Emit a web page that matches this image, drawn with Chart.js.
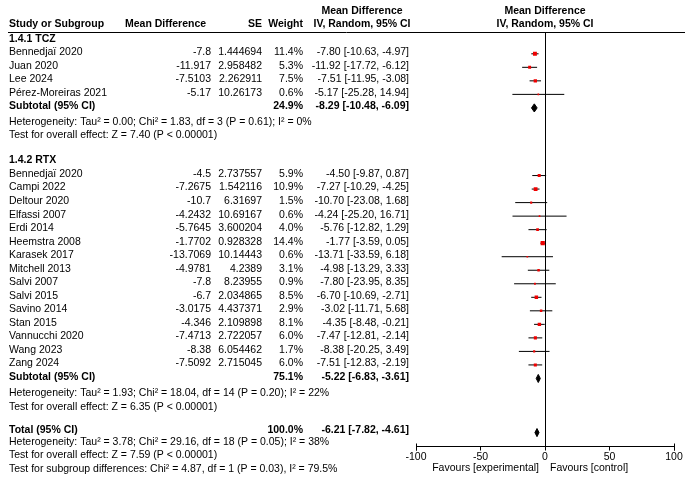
<!DOCTYPE html>
<html>
<head>
<meta charset="utf-8">
<script src="https://cdn.jsdelivr.net/npm/chart.js@4.4.1/dist/chart.umd.min.js"></script>
<style>
html,body{margin:0;padding:0;background:#fff;}
#wrap{width:685px;height:483px;position:relative;}
</style>
</head>
<body>
<div id="wrap"><canvas id="c" width="685" height="483"></canvas></div>
<script>
// ---------- data ----------
const tczStudies = ["Bennedjaï 2020", "Juan 2020", "Lee 2024", "Pérez-Moreiras 2021"];
const tczMD = [-7.8, -11.917, -7.5103, -5.17];
const tczSE = [1.444694, 2.958482, 2.262911, 10.26173];
const tczWeight = [11.4, 5.3, 7.5, 0.6];
const tczEst = [-7.80, -11.92, -7.51, -5.17];
const tczLow = [-10.63, -17.72, -11.95, -25.28];
const tczHigh = [-4.97, -6.12, -3.08, 14.94];
const tczSubtotal = { weight: 24.9, est: -8.29, low: -10.48, high: -6.09 };
const tczHet = "Heterogeneity: Tau² = 0.00; Chi² = 1.83, df = 3 (P = 0.61); I² = 0%";
const tczTest = "Test for overall effect: Z = 7.40 (P < 0.00001)";

const rtxStudies = ["Bennedjaï 2020", "Campi 2022", "Deltour 2020", "Elfassi 2007", "Erdi 2014",
  "Heemstra 2008", "Karasek 2017", "Mitchell 2013", "Salvi 2007", "Salvi 2015", "Savino 2014",
  "Stan 2015", "Vannucchi 2020", "Wang 2023", "Zang 2024"];
const rtxMD = [-4.5, -7.2675, -10.7, -4.2432, -5.7645, -1.7702, -13.7069, -4.9781, -7.8, -6.7,
  -3.0175, -4.346, -7.4713, -8.38, -7.5092];
const rtxSE = [2.737557, 1.542116, 6.31697, 10.69167, 3.600204, 0.928328, 10.14443, 4.2389,
  8.23955, 2.034865, 4.437371, 2.109898, 2.722057, 6.054462, 2.715045];
const rtxWeight = [5.9, 10.9, 1.5, 0.6, 4.0, 14.4, 0.6, 3.1, 0.9, 8.5, 2.9, 8.1, 6.0, 1.7, 6.0];
const rtxEst = [-4.50, -7.27, -10.70, -4.24, -5.76, -1.77, -13.71, -4.98, -7.80, -6.70, -3.02,
  -4.35, -7.47, -8.38, -7.51];
const rtxLow = [-9.87, -10.29, -23.08, -25.20, -12.82, -3.59, -33.59, -13.29, -23.95, -10.69,
  -11.71, -8.48, -12.81, -20.25, -12.83];
const rtxHigh = [0.87, -4.25, 1.68, 16.71, 1.29, 0.05, 6.18, 3.33, 8.35, -2.71, 5.68, -0.21,
  -2.14, 3.49, -2.19];
const rtxSubtotal = { weight: 75.1, est: -5.22, low: -6.83, high: -3.61 };
const rtxHet = "Heterogeneity: Tau² = 1.93; Chi² = 18.04, df = 14 (P = 0.20); I² = 22%";
const rtxTest = "Test for overall effect: Z = 6.35 (P < 0.00001)";

const total = { weight: 100.0, est: -6.21, low: -7.82, high: -4.61 };
const totalHet = "Heterogeneity: Tau² = 3.78; Chi² = 29.16, df = 18 (P = 0.05); I² = 38%";
const totalTest = "Test for overall effect: Z = 7.59 (P < 0.00001)";
const subgroupTest = "Test for subgroup differences: Chi² = 4.87, df = 1 (P = 0.03), I² = 79.5%";

const xTicks = [-100, -50, 0, 50, 100];
const favourLeft = "Favours [experimental]";
const favourRight = "Favours [control]";

// ---------- row layout (row index units) ----------
const rowTCZHeader = 0;
const rowTCZFirst = 1;
const rowTCZSub = rowTCZFirst + tczStudies.length;       // 5
const rowRTXHeader = rowTCZSub + 4;                        // 9
const rowRTXFirst = rowRTXHeader + 1;                      // 10
const rowRTXSub = rowRTXFirst + rtxStudies.length;         // 25
const rowTotal = rowRTXSub + 4;                            // 29

const FONT = '"Liberation Sans", Arial, sans-serif';
const FS = 10.5;
const TEXT_SHIFT = -1.5;

function ciText(e, l, h) { return e.toFixed(2) + " [" + l.toFixed(2) + ", " + h.toFixed(2) + "]"; }

// ---------- datasets ----------
const datasets = [];
function addStudy(row, low, high, est, w) {
  datasets.push({
    type: 'scatter', showLine: true, data: [{x: low, y: row}, {x: high, y: row}],
    borderColor: '#000', borderWidth: 1, pointRadius: 0, pointHoverRadius: 0, order: 2
  });
  const side = 1 + Math.sqrt(w) * 0.85;
  datasets.push({
    type: 'scatter', data: [{x: est, y: row}], pointStyle: 'rect',
    pointRadius: side / Math.SQRT2, pointBackgroundColor: '#ee0000',
    pointBorderColor: '#ee0000', pointBorderWidth: 0, order: 1
  });
}
function addDiamond(row, s) {
  const h = 0.3;
  datasets.push({
    type: 'line', showLine: true,
    data: [{x: s.low, y: row}, {x: s.est, y: row - h}, {x: s.high, y: row}, {x: s.est, y: row + h}, {x: s.low, y: row}],
    borderColor: '#000', backgroundColor: '#000', borderWidth: 1, fill: 'shape', pointRadius: 0, tension: 0, order: 1
  });
}
tczStudies.forEach((s, i) => addStudy(rowTCZFirst + i, tczLow[i], tczHigh[i], tczEst[i], tczWeight[i]));
addDiamond(rowTCZSub, tczSubtotal);
rtxStudies.forEach((s, i) => addStudy(rowRTXFirst + i, rtxLow[i], rtxHigh[i], rtxEst[i], rtxWeight[i]));
addDiamond(rowRTXSub, rtxSubtotal);
addDiamond(rowTotal, total);

// ---------- text / frame plugin ----------
const tablePlugin = {
  id: 'table',
  beforeDatasetsDraw(chart) {
    const ctx = chart.ctx, xs = chart.scales.x, ys = chart.scales.y;
    const x0 = xs.getPixelForValue(0);
    ctx.save();
    ctx.strokeStyle = '#000'; ctx.lineWidth = 1;
    const top = Math.round(ys.getPixelForValue(-0.6)) + 0.5;
    ctx.beginPath(); ctx.moveTo(8, top); ctx.lineTo(685, top); ctx.stroke();
    ctx.beginPath(); ctx.moveTo(Math.round(x0) + 0.5, top); ctx.lineTo(Math.round(x0) + 0.5, chart.chartArea.bottom); ctx.stroke();
    ctx.restore();
  },
  afterDraw(chart) {
    const ctx = chart.ctx, xs = chart.scales.x, ys = chart.scales.y;
    const Y = r => ys.getPixelForValue(r) + TEXT_SHIFT;
    const x0 = xs.getPixelForValue(0);
    const L = 9, cMD = 211, cSE = 262, cW = 303, cCI = 409;
    ctx.save();
    ctx.fillStyle = '#000';
    ctx.textBaseline = 'middle';
    function t(str, x, r, align, bold) {
      ctx.font = (bold ? 'bold ' : '') + FS + 'px ' + FONT;
      ctx.textAlign = align || 'left';
      ctx.fillText(str, x, Y(r));
    }
    // headers
    t("Study or Subgroup", L, -1.1, 'left', true);
    t("Mean Difference", 125, -1.1, 'left', true);
    t("SE", cSE, -1.1, 'right', true);
    t("Weight", cW, -1.1, 'right', true);
    t("Mean Difference", 362, -2.05, 'center', true);
    t("IV, Random, 95% CI", 362, -1.1, 'center', true);
    t("Mean Difference", x0, -2.05, 'center', true);
    t("IV, Random, 95% CI", x0, -1.1, 'center', true);
    // TCZ
    t("1.4.1 TCZ", L, rowTCZHeader, 'left', true);
    tczStudies.forEach((s, i) => {
      const r = rowTCZFirst + i;
      t(s, L, r); t(String(tczMD[i]), cMD, r, 'right'); t(String(tczSE[i]), cSE, r, 'right');
      t(tczWeight[i].toFixed(1) + "%", cW, r, 'right'); t(ciText(tczEst[i], tczLow[i], tczHigh[i]), cCI, r, 'right');
    });
    t("Subtotal (95% CI)", L, rowTCZSub, 'left', true);
    t(tczSubtotal.weight.toFixed(1) + "%", cW, rowTCZSub, 'right', true);
    t(ciText(tczSubtotal.est, tczSubtotal.low, tczSubtotal.high), cCI, rowTCZSub, 'right', true);
    t(tczHet, L, rowTCZSub + 1.15);
    t(tczTest, L, rowTCZSub + 2.12);
    // RTX
    t("1.4.2 RTX", L, rowRTXHeader, 'left', true);
    rtxStudies.forEach((s, i) => {
      const r = rowRTXFirst + i;
      t(s, L, r); t(String(rtxMD[i]), cMD, r, 'right'); t(String(rtxSE[i]), cSE, r, 'right');
      t(rtxWeight[i].toFixed(1) + "%", cW, r, 'right'); t(ciText(rtxEst[i], rtxLow[i], rtxHigh[i]), cCI, r, 'right');
    });
    t("Subtotal (95% CI)", L, rowRTXSub, 'left', true);
    t(rtxSubtotal.weight.toFixed(1) + "%", cW, rowRTXSub, 'right', true);
    t(ciText(rtxSubtotal.est, rtxSubtotal.low, rtxSubtotal.high), cCI, rowRTXSub, 'right', true);
    t(rtxHet, L, rowRTXSub + 1.2);
    t(rtxTest, L, rowRTXSub + 2.2);
    // Total
    t("Total (95% CI)", L, rowTotal - 0.1, 'left', true);
    t(total.weight.toFixed(1) + "%", cW, rowTotal - 0.1, 'right', true);
    t(ciText(total.est, total.low, total.high), cCI, rowTotal - 0.1, 'right', true);
    t(totalHet, L, rowTotal + 0.85);
    t(totalTest, L, rowTotal + 1.8);
    t(subgroupTest, L, rowTotal + 2.82);
    // favours
    ctx.font = FS + 'px ' + FONT;
    ctx.textBaseline = 'middle';
    ctx.textAlign = 'right'; ctx.fillText(favourLeft, x0 - 6, 468);
    ctx.textAlign = 'left'; ctx.fillText(favourRight, x0 + 5, 468);
    // taller end ticks
    ctx.strokeStyle = '#000'; ctx.lineWidth = 1;
    [xTicks[0], xTicks[xTicks.length - 1]].forEach(v => {
      const px = Math.round(xs.getPixelForValue(v)) + 0.5;
      ctx.beginPath(); ctx.moveTo(px, chart.chartArea.bottom - 3); ctx.lineTo(px, chart.chartArea.bottom + 4); ctx.stroke();
    });
    ctx.restore();
  }
};

const ROWPX = 13.65;
const AXIS_Y = 446.5;
const yMin = -36.6 / ROWPX;
const yMax = yMin + AXIS_Y / ROWPX;

new Chart(document.getElementById('c'), {
  type: 'scatter',
  data: { datasets },
  options: {
    responsive: false, animation: false, devicePixelRatio: 1,
    layout: { padding: { left: 416, right: 11, top: 0, bottom: 0 } },
    plugins: { legend: { display: false }, tooltip: { enabled: false }, filler: { propagate: false } },
    scales: {
      x: {
        type: 'linear', min: -100, max: 100,
        afterBuildTicks(scale) { scale.ticks = xTicks.map(v => ({ value: v })); },
        afterFit(scale) { scale.height = 483 - AXIS_Y; },
        grid: { display: true, drawOnChartArea: false, drawTicks: true, tickLength: 4, color: '#000', lineWidth: 1 },
        border: { display: true, color: '#000', width: 1 },
        ticks: { color: '#000', padding: 0, maxRotation: 0, font: { family: FONT, size: FS }, callback: v => String(v) }
      },
      y: { type: 'linear', min: yMin, max: yMax, reverse: true, display: false }
    }
  },
  plugins: [tablePlugin]
});
</script>
</body>
</html>
